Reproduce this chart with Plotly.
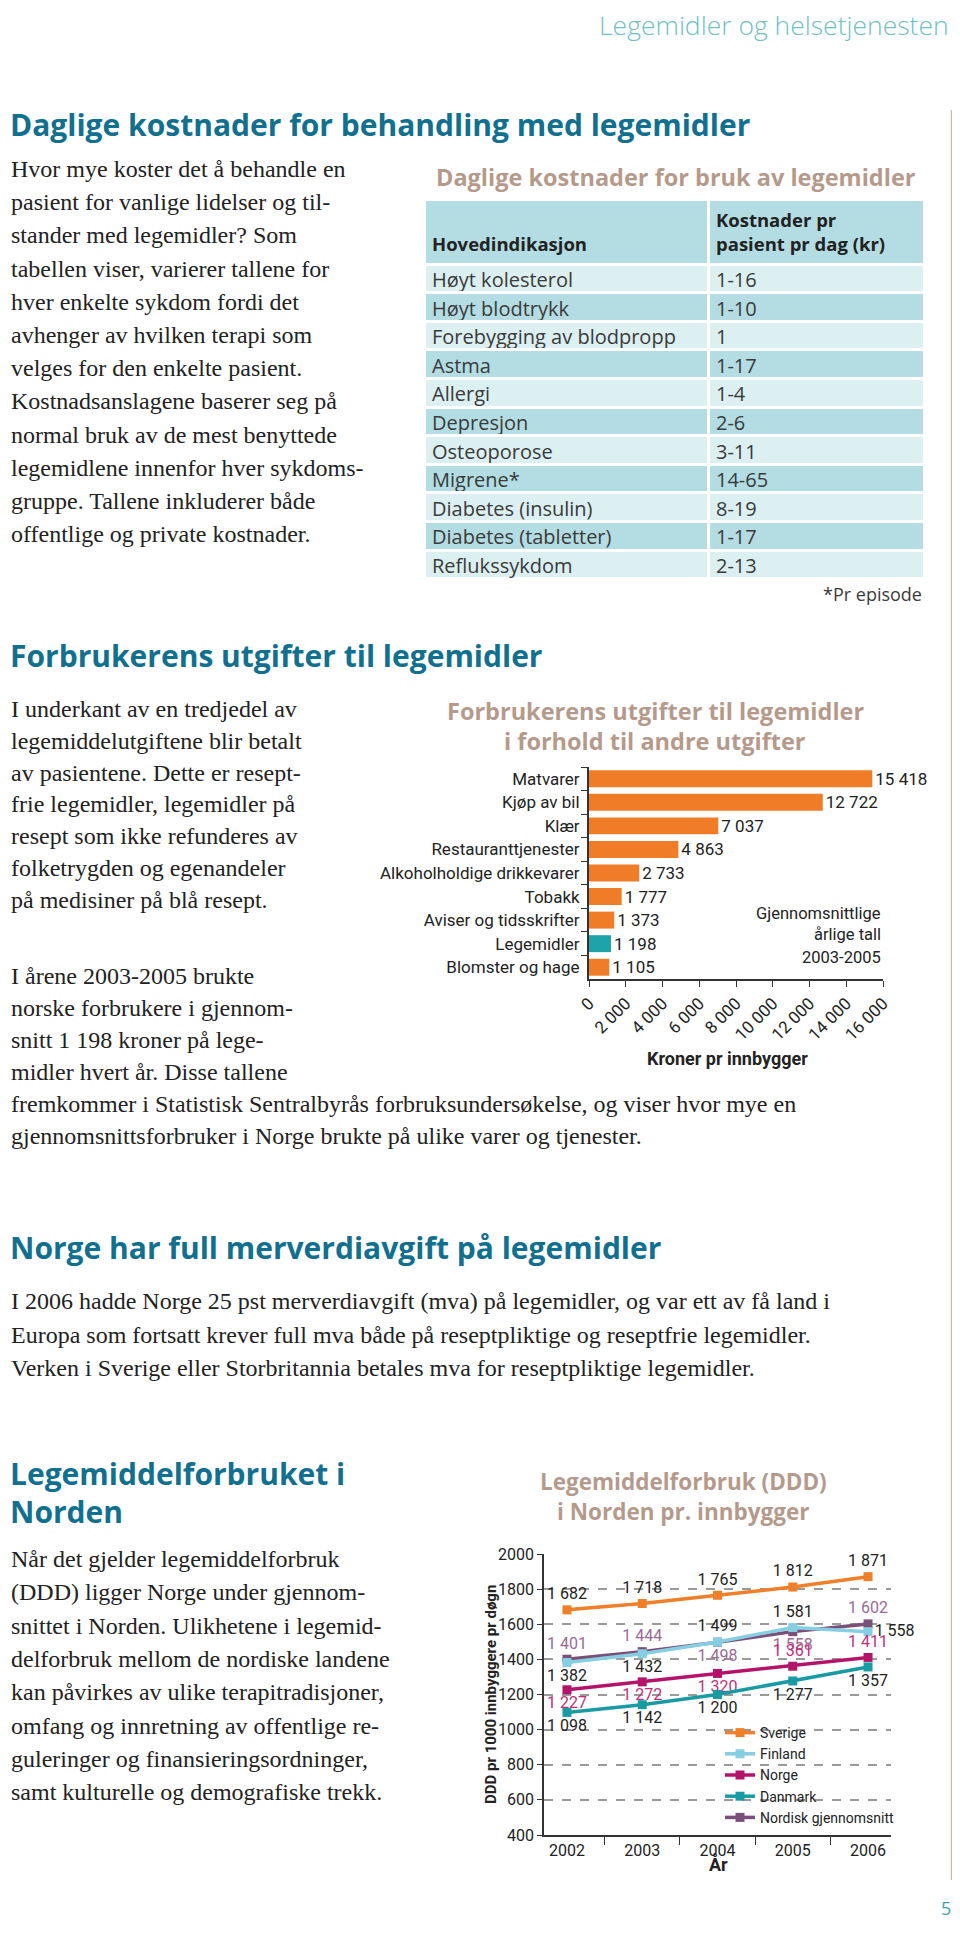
import plotly.graph_objects as go

# page body has an 8px margin; the figure is sized so that the page does not overflow the window
OFF = 8
W, H = 960 - OFF, 1945 - 2 * OFF
def X(px): return (px - OFF) / W
def Y(py): return 1 - (py - OFF) / H

# ---------------- data ----------------
indications = ["Høyt kolesterol", "Høyt blodtrykk", "Forebygging av blodpropp", "Astma",
               "Allergi", "Depresjon", "Osteoporose", "Migrene*", "Diabetes (insulin)",
               "Diabetes (tabletter)", "Reflukssykdom"]
daily_costs = ["1-16", "1-10", "1", "1-17", "1-4", "2-6", "3-11", "14-65", "8-19", "1-17", "2-13"]

expense_categories = ["Matvarer", "Kjøp av bil", "Klær", "Restauranttjenester",
                      "Alkoholholdige drikkevarer", "Tobakk", "Aviser og tidsskrifter",
                      "Legemidler", "Blomster og hage"]
expense_values = [15418, 12722, 7037, 4863, 2733, 1777, 1373, 1198, 1105]
expense_ticks = [0, 2000, 4000, 6000, 8000, 10000, 12000, 14000, 16000]

years = ["2002", "2003", "2004", "2005", "2006"]
sverige = [1682, 1718, 1765, 1812, 1871]
finland = [1382, 1432, 1499, 1581, 1558]
norge = [1227, 1272, 1320, 1361, 1411]
danmark = [1098, 1142, 1200, 1277, 1357]
nordisk = [1401, 1444, 1498, 1558, 1602]
ddd_ticks = [400, 600, 800, 1000, 1200, 1400, 1600, 1800, 2000]

para1 = ["Hvor mye koster det å behandle en", "pasient for vanlige lidelser og til-",
         "stander med legemidler? Som", "tabellen viser, varierer tallene for",
         "hver enkelte sykdom fordi det", "avhenger av hvilken terapi som",
         "velges for den enkelte pasient.", "Kostnadsanslagene baserer seg på",
         "normal bruk av de mest benyttede", "legemidlene innenfor hver sykdoms-",
         "gruppe. Tallene inkluderer både", "offentlige og private kostnader."]
para2 = ["I underkant av en tredjedel av", "legemiddelutgiftene blir betalt",
         "av pasientene. Dette er resept-", "frie legemidler, legemidler på",
         "resept som ikke refunderes av", "folketrygden og egenandeler",
         "på medisiner på blå resept."]
para2b = ["I årene 2003-2005 brukte", "norske forbrukere i gjennom-",
          "snitt 1 198 kroner på lege-", "midler hvert år. Disse tallene",
          "fremkommer i Statistisk Sentralbyrås forbruksundersøkelse, og viser hvor mye en",
          "gjennomsnittsforbruker i Norge brukte på ulike varer og tjenester."]
para3 = ["I 2006 hadde Norge 25 pst merverdiavgift (mva) på legemidler, og var ett av få land i",
         "Europa som fortsatt krever full mva både på reseptpliktige og reseptfrie legemidler.",
         "Verken i Sverige eller Storbritannia betales mva for reseptpliktige legemidler."]
para4 = ["Når det gjelder legemiddelforbruk", "(DDD) ligger Norge under gjennom-",
         "snittet i Norden. Ulikhetene i legemid-", "delforbruk mellom de nordiske landene",
         "kan påvirkes av ulike terapitradisjoner,", "omfang og innretning av offentlige re-",
         "guleringer og finansieringsordninger,", "samt kulturelle og demografiske trekk."]

def fmt(v):
    return f"{v:,}".replace(",", " ")

# ---------------- styles ----------------
SERIF = "Liberation Serif, DejaVu Serif, serif"
SANS = "Open Sans, Noto Sans, sans-serif"
NARROW = "Liberation Sans Narrow, Roboto, sans-serif"
TEAL = "#11708f"
TAN = "#b59a8b"
TXT = "#222222"

fig = go.Figure()

# ---------------- table ----------------
light, dark = "#dcf0f2", "#b3dde2"
row_fill = [light if i % 2 == 0 else dark for i in range(len(indications))]
fig.add_trace(go.Table(
    domain=dict(x=[X(424), X(924)], y=[Y(610), Y(199)]),
    columnwidth=[284, 216],
    header=dict(values=["&nbsp;<br><b>Hovedindikasjon</b>", "<b>Kostnader pr<br>pasient pr dag (kr)</b>"],
                fill_color=dark, line=dict(color="white", width=3), align="left",
                font=dict(family=SANS, size=18.5, color=TXT), height=58),
    cells=dict(values=[indications, daily_costs], fill_color=[row_fill, row_fill],
               line=dict(color="white", width=3), align="left",
               font=dict(family=SANS, size=20, color="#3a3a3a"), height=28.6),
))

# ---------------- bar chart ----------------
bar_colors = ["#1ea3aa" if c == "Legemidler" else "#f07c28" for c in expense_categories]
fig.add_trace(go.Bar(
    x=expense_values, y=expense_categories, orientation="h", xaxis="x", yaxis="y",
    marker=dict(color=bar_colors, line=dict(width=0)), width=0.72,
    text=[fmt(v) for v in expense_values], textposition="outside", cliponaxis=False,
    constraintext="none", textfont=dict(family=NARROW, size=17, color=TXT),
    showlegend=False, hoverinfo="skip",
))

# ---------------- line chart ----------------
series = [
    ("Nordisk gjennomsnitt", nordisk, "#7a5079", "#9a6a95",
     ["top center", "top center", "bottom center", "bottom center", "top center"], 5),
    ("Sverige", sverige, "#f07f2a", TXT, ["top center"] * 5, 1),
    ("Finland", finland, "#86cfe2", TXT,
     ["bottom center", "bottom center", "top center", "top center", "middle right"], 2),
    ("Norge", norge, "#b3146a", "#c0307a",
     ["bottom center"] * 3 + ["top center"] * 2, 3),
    ("Danmark", danmark, "#1a9ba3", TXT, ["bottom center"] * 5, 4),
]
for name, vals, col, tcol, tpos, rank in series:
    fig.add_trace(go.Scatter(
        x=years, y=vals, name=name, xaxis="x2", yaxis="y2", mode="lines+markers+text",
        line=dict(color=col, width=3.5), marker=dict(symbol="square", size=9, color=col),
        text=[fmt(v) for v in vals], textposition=tpos, cliponaxis=False,
        textfont=dict(family=NARROW, size=16, color=tcol), legendrank=rank,
    ))

# ---------------- annotations ----------------
ann = []
def text(px, py, s, size, color=TXT, family=SERIF, anchor="left", weight=None, yanchor="middle"):
    f = dict(family=family, size=size, color=color)
    if weight:
        f["weight"] = weight
    ann.append(dict(x=X(px), y=Y(py), xref="paper", yref="paper", text=s, showarrow=False,
                    xanchor=anchor, yanchor=yanchor, font=f))

text(951, 25, "Legemidler og helsetjenesten", 26.5, "#6fbfc4", SANS, "right", 300)
text(8, 124, "Daglige kostnader for behandling med legemidler", 30, TEAL, SANS, weight=700)
for i, s in enumerate(para1):
    text(9, 169 + i * 33.2, s, 24)
text(434, 177, "Daglige kostnader for bruk av legemidler", 23.5, TAN, SANS, weight=700)
text(924, 594, "*Pr episode", 18, "#3a3a3a", SANS, "right")

text(8, 655, "Forbrukerens utgifter til legemidler", 30, TEAL, SANS, weight=700)
for i, s in enumerate(para2):
    text(9, 709 + i * 31.8, s, 24)
for i, s in enumerate(para2b):
    text(9, 976 + i * 32, s, 24)
text(655, 711, "Forbrukerens utgifter til legemidler", 23.5, TAN, SANS, "center", 700)
text(655, 741, "i forhold til andre utgifter", 23.5, TAN, SANS, "center", 700)
text(883, 914, "Gjennomsnittlige", 16.5, TXT, NARROW, "right")
text(883, 935, "årlige tall", 16.5, TXT, NARROW, "right")
text(883, 957, "2003-2005", 16.5, TXT, NARROW, "right")
text(727, 1058, "<b>Kroner pr innbygger</b>", 18, TXT, NARROW, "center")

text(8, 1247, "Norge har full merverdiavgift på legemidler", 30, TEAL, SANS, weight=700)
for i, s in enumerate(para3):
    text(9, 1301 + i * 33.5, s, 24)

text(8, 1473, "Legemiddelforbruket i", 30, TEAL, SANS, weight=700)
text(8, 1511, "Norden", 30, TEAL, SANS, weight=700)
for i, s in enumerate(para4):
    text(9, 1559 + i * 33.3, s, 24)
text(683, 1481, "Legemiddelforbruk (DDD)", 22.5, TAN, SANS, "center", 700)
text(683, 1511, "i Norden pr. innbygger", 22.5, TAN, SANS, "center", 700)
text(718, 1864, "<b>År</b>", 18, TXT, NARROW, "center")
ann.append(dict(x=X(491), y=Y(1695), xref="paper", yref="paper", text="<b>DDD pr 1000 innbyggere pr døgn</b>",
                showarrow=False, textangle=-90, xanchor="center", yanchor="middle",
                font=dict(family=NARROW, size=15, color=TXT)))
text(946, 1908, "5", 18, "#3aa3ad", SANS, "center")

fig.update_layout(
    width=W, height=H, margin=dict(l=0, r=0, t=0, b=0, pad=0, autoexpand=False),
    paper_bgcolor="white", plot_bgcolor="white", separators=", ",
    annotations=ann,
    shapes=[dict(type="line", xref="paper", yref="paper", x0=X(952), x1=X(952), y0=Y(110), y1=Y(1880),
                 line=dict(color="#c9bcae", width=2.5))],
    xaxis=dict(domain=[X(589), X(883)], range=[0, 16000], tickvals=expense_ticks, tickformat=",d",
               ticks="outside", ticklen=6, tickcolor="#333", showline=True, linecolor="#333", linewidth=1.5,
               showgrid=False, zeroline=False, tickangle=-45, anchor="y", automargin=False,
               tickfont=dict(family=NARROW, size=17, color=TXT)),
    yaxis=dict(domain=[Y(979), Y(767)], type="category", autorange="reversed", ticks="outside",
               tickson="boundaries", ticklen=6, tickcolor="#333", showline=True, linecolor="#333",
               linewidth=1.5, showgrid=False, zeroline=False, anchor="x", ticksuffix=" ", automargin=False,
               tickfont=dict(family=NARROW, size=17, color=TXT)),
    xaxis2=dict(domain=[X(544), X(891)], type="category", ticks="outside", tickson="boundaries",
                ticklen=8, tickcolor="#333", showline=True, linecolor="#333", linewidth=1.5,
                showgrid=False, zeroline=False, anchor="y2", automargin=False,
                tickfont=dict(family=NARROW, size=16, color=TXT)),
    yaxis2=dict(domain=[Y(1835), Y(1554)], range=[400, 2000], tickvals=ddd_ticks, tickformat="d",
                ticks="outside", ticklen=5, tickcolor="#333", showline=True, linecolor="#333",
                linewidth=1.5, showgrid=True, gridcolor="#9a9a9a", griddash="dash", gridwidth=1.5,
                zeroline=False, anchor="x2", automargin=False, tickfont=dict(family=NARROW, size=16, color=TXT)),
    legend=dict(x=X(720), y=Y(1717), xanchor="left", yanchor="top", bgcolor="rgba(0,0,0,0)",
                font=dict(family=NARROW, size=14, color=TXT), tracegroupgap=0, itemwidth=30),
)

fig.write_html("out.html")
